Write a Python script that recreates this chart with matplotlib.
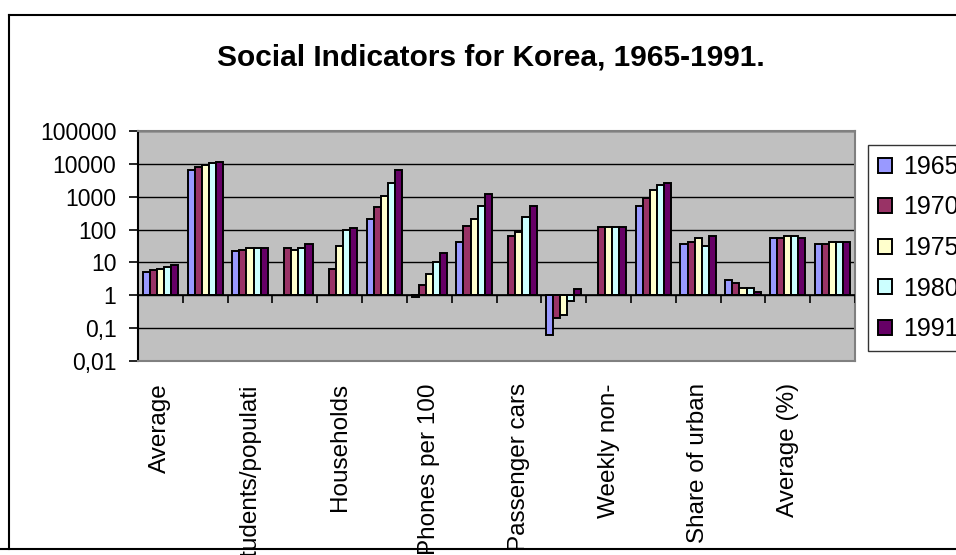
import numpy as np
import matplotlib
matplotlib.use("Agg")
import matplotlib.pyplot as plt
from matplotlib.lines import Line2D

plt.rcParams['font.family'] = ['Liberation Sans', 'DejaVu Sans']

# one value per indicator (16 indicators), NaN = no data
years = ['1965', '1970', '1975', '1980', '1991']
v1965 = [5.0, 6600, 21.7, np.nan, np.nan, 210, 0.87, 42, np.nan, 0.06, np.nan, 535, 37, 2.9, 55, 37]
v1970 = [5.8, 7800, 24.5, 28, 6.5, 470, 2.0, 125, 64, 0.2, 122, 915, 43, 2.3, 55, 37]
v1975 = [6.5, 8950, 28, 24.5, 32, 1020, 4.4, 215, 82, 0.26, 122, 1600, 57, 1.7, 62, 42]
v1980 = [7.4, 10300, 28, 28, 95, 2700, 10, 535, 240, 0.66, 122, 2300, 32, 1.7, 62, 42]
v1991 = [8.4, 11500, 28, 36.5, 109, 6600, 19, 1210, 535, 1.5, 122, 2700, 65, 1.3, 55, 42]
series = [v1965, v1970, v1975, v1980, v1991]
colors = ['#9999FF', '#993366', '#FFFFCC', '#CCFFFF', '#660066']

# only every second category is labelled in the chart
shown_labels = ['Average', 'Students/populati', 'Households', 'Phones per 100',
                'Passenger cars', 'Weekly non-', 'Share of urban', 'Average (%)']

ncat = len(v1965)
x = np.arange(ncat)
w = 0.158

fig = plt.figure(figsize=(9.56, 5.55), dpi=100)
ax = fig.add_axes([138/956, 1-361/555, (855-138)/956, (361-131)/555])
ax.set_facecolor('#C0C0C0')
ax.set_yscale('log')
ax.set_ylim(0.01, 100000)
ax.set_xlim(0, ncat)

for i, (vals, c, yr) in enumerate(zip(series, colors, years)):
    vals = np.array(vals, dtype=float)
    ok = ~np.isnan(vals)
    pos = x[ok] + 0.5 + (i - 2) * w
    ax.bar(pos, vals[ok] - 1, bottom=1, width=w, color=c, edgecolor='black',
           linewidth=1.4, label=yr, zorder=3)

ax.set_yticks([0.01, 0.1, 1, 10, 100, 1000, 10000, 100000])
ax.set_yticklabels(['0,01', '0,1', '1', '10', '100', '1000', '10000', '100000'])
ax.yaxis.set_minor_locator(matplotlib.ticker.NullLocator())
ax.tick_params(axis='y', length=6.5, width=1.2, labelsize=16.5, pad=9, color='black')
ax.grid(axis='y', color='black', linewidth=1, zorder=1)
ax.set_axisbelow(True)

ax.set_xticks(x[::2] + 0.5)
ax.set_xticklabels(shown_labels, rotation=90, va='top', ha='center', fontsize=17.5)
ax.tick_params(axis='x', length=0, pad=16)

for s in ['top', 'right', 'bottom']:
    ax.spines[s].set_color('#808080')
    ax.spines[s].set_linewidth(1.5)
ax.spines['left'].set_color('black')
ax.spines['left'].set_linewidth(1.5)

# category axis crossing at 1, with tick marks between groups
ax.axhline(1, color='black', linewidth=1.2, zorder=4)
ax.vlines(np.arange(ncat + 1), 0.57, 1, color='black', linewidth=1.2, zorder=4)

fig.text(491/956, 1-57/555, 'Social Indicators for Korea, 1965-1991.',
         ha='center', va='center', fontsize=21.5, fontweight='bold')

leg = fig.legend(loc='upper left', bbox_to_anchor=(868/956, 1-145/555),
                 fontsize=18, frameon=True, fancybox=False, edgecolor='black',
                 handlelength=0.55, handleheight=0.55, handletextpad=0.45,
                 labelspacing=0.66, borderpad=0.4, borderaxespad=0)
leg.get_frame().set_linewidth(1.0)

# outer chart border
for xs, ys in [([9/956, 9/956], [1-15/555, 1-548.5/555]),
               ([9/956, 1.0], [1-15/555, 1-15/555]),
               ([0.0, 1.0], [1-548.5/555, 1-548.5/555])]:
    fig.add_artist(Line2D(xs, ys, color='black', linewidth=1.5, zorder=0))

fig.savefig('out.png', dpi=100)
